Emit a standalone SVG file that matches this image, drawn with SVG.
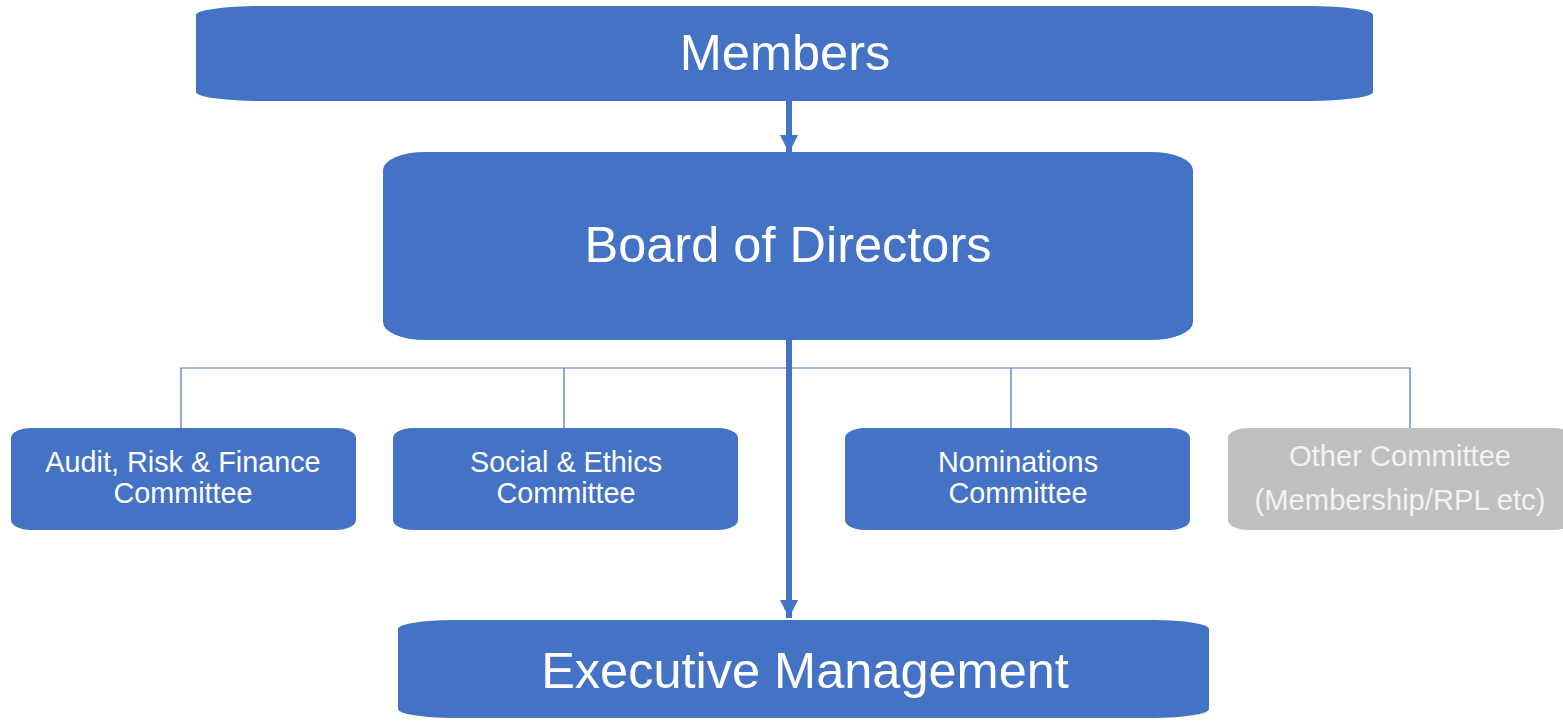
<svg xmlns="http://www.w3.org/2000/svg" width="1563" height="721" viewBox="0 0 1563 721">
<style>
.box{fill:#4472C4}
.gray{fill:#BFBFBF}
.big{font-family:"Liberation Sans",Arial,sans-serif;font-size:50.5px;fill:#FFFFFF;text-anchor:middle}
.small{font-family:"Liberation Sans",Arial,sans-serif;font-size:28.8px;fill:#FFFFFF;text-anchor:middle}
.small-g{font-family:"Liberation Sans",Arial,sans-serif;font-size:29.2px;fill:#F2F2F2;text-anchor:middle}
.thin{stroke:#4472C4;stroke-width:1.2;fill:none}
.thick{stroke:#4472C4;stroke-width:6;fill:none}
</style>
<defs>
<marker id="arr" markerUnits="userSpaceOnUse" markerWidth="20" markerHeight="18" refX="18" refY="9" orient="auto">
<path d="M0,0 L18,9 L0,18 Z" fill="#4472C4"/>
</marker>
</defs>
<g id="connectors">
<path class="thin" d="M181,428 V368 H1410 V428"/>
<path class="thin" d="M564,368 V428"/>
<path class="thin" d="M1011,368 V428"/>
<path class="thick" d="M789,101 V153" marker-end="url(#arr)"/>
<path class="thick" d="M789,340 V618" marker-end="url(#arr)"/>
</g>
<g id="members">
<rect class="box" x="196" y="6" width="1177" height="95" rx="64" ry="9"/>
<text class="big" x="785" y="70">Members</text>
</g>
<g id="board">
<rect class="box" x="383" y="152" width="810" height="188" rx="42" ry="18"/>
<text class="big" x="788" y="262">Board of Directors</text>
</g>
<g id="audit">
<rect class="box" x="11" y="428" width="345" height="102" rx="20" ry="10"/>
<text class="small" x="183" y="472">Audit, Risk &amp; Finance</text>
<text class="small" x="183" y="503">Committee</text>
</g>
<g id="social">
<rect class="box" x="393" y="428" width="345" height="102" rx="20" ry="10"/>
<text class="small" x="566" y="472">Social &amp; Ethics</text>
<text class="small" x="566" y="503">Committee</text>
</g>
<g id="nominations">
<rect class="box" x="845" y="428" width="345" height="102" rx="20" ry="10"/>
<text class="small" x="1018" y="472">Nominations</text>
<text class="small" x="1018" y="503">Committee</text>
</g>
<g id="other">
<rect class="gray" x="1228" y="428" width="345" height="102" rx="20" ry="10"/>
<text class="small-g" x="1400" y="466">Other Committee</text>
<text class="small-g" x="1400" y="510">(Membership/RPL etc)</text>
</g>
<g id="executive">
<rect class="box" x="398" y="620" width="811" height="98" rx="55" ry="9"/>
<text class="big" x="805" y="688">Executive Management</text>
</g>
</svg>
